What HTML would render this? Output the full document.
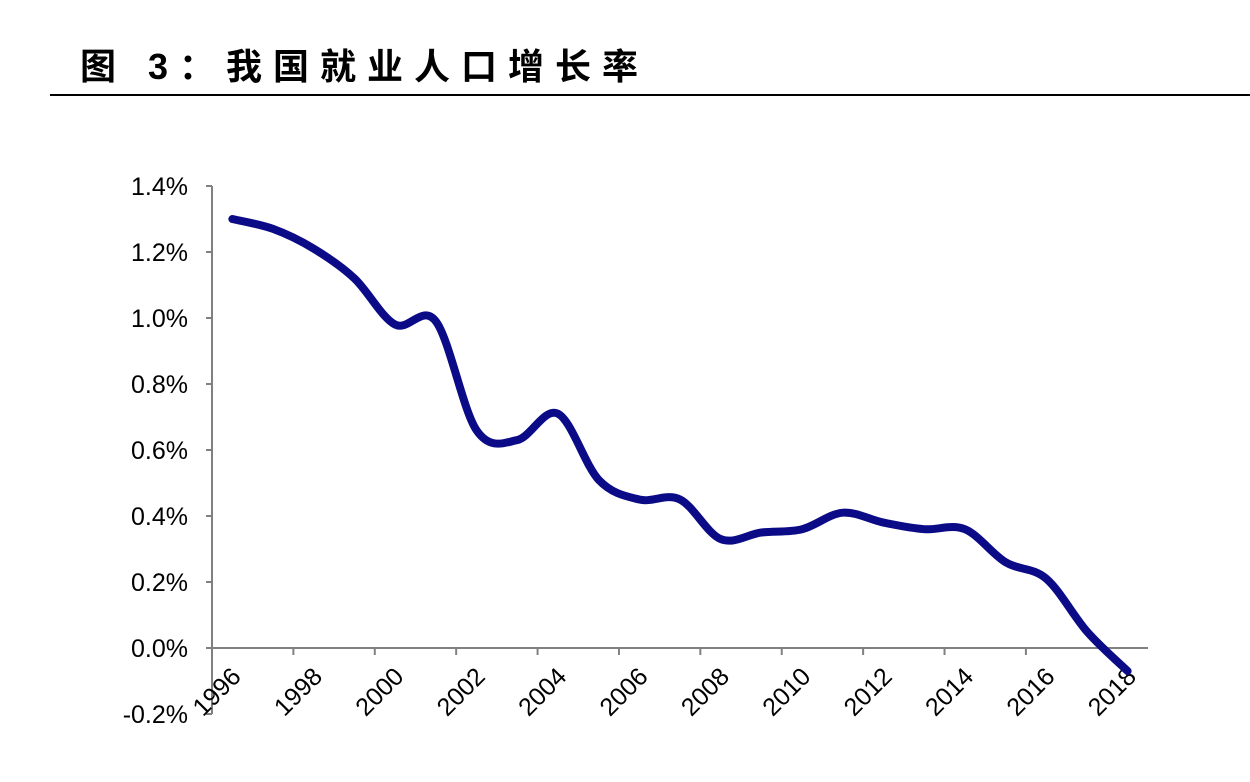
<!DOCTYPE html>
<html><head><meta charset="utf-8">
<style>
html,body{margin:0;padding:0;background:#fff;}
body{width:1250px;height:782px;overflow:hidden;position:relative;font-family:"Liberation Sans","Noto Sans CJK SC",sans-serif;}
#title{position:absolute;left:80px;top:38px;font-size:36px;font-weight:bold;letter-spacing:11px;font-family:"Liberation Sans","Noto Sans CJK SC",sans-serif;}
#rule{position:absolute;left:50px;top:94px;width:1200px;height:2px;background:#000;}
</style></head><body>
<div id="title">图 3：我国就业人口增长率</div>
<div id="rule"></div>
<svg id="chart" width="1250" height="782" style="position:absolute;left:0;top:0"></svg>
<script>
const years=["1996","1997","1998","1999","2000","2001","2002","2003","2004","2005","2006","2007","2008","2009","2010","2011","2012","2013","2014","2015","2016","2017","2018"];
const growth=[1.30,1.27,1.21,1.12,0.98,0.99,0.66,0.63,0.71,0.51,0.45,0.45,0.33,0.35,0.36,0.41,0.38,0.36,0.36,0.26,0.21,0.05,-0.07];
const yTicks=[-0.2,0,0.2,0.4,0.6,0.8,1.0,1.2,1.4];
const xLabelYears=["1996","1998","2000","2002","2004","2006","2008","2010","2012","2014","2016","2018"];

const NS="http://www.w3.org/2000/svg";
const svg=document.getElementById('chart');
const x0=212,x1=1148,yZero=648,pxPer=330;
const band=(x1-x0)/years.length;
const X=i=>x0+band*(i+0.5);
const Y=v=>yZero-v*pxPer;
function mk(t,a){const e=document.createElementNS(NS,t);for(const k in a)e.setAttribute(k,a[k]);svg.appendChild(e);return e;}

const ya=mk('line',{x1:x0,y1:Y(1.4),x2:x0,y2:Y(-0.2),stroke:'#808080','stroke-width':2});


yTicks.forEach(v=>{
  const t=mk('line',{x1:x0-6,y1:Y(v),x2:x0,y2:Y(v),stroke:'#808080','stroke-width':2});
  
  
  const l=mk('text',{x:x0-24,y:Y(v)+9,'text-anchor':'end','font-size':25,'font-family':'Liberation Sans, sans-serif',fill:'#000'});
  l.textContent=v.toFixed(1)+'%';
  
  
});
const xa=mk('line',{x1:x0,y1:yZero,x2:x1,y2:yZero,stroke:'#808080','stroke-width':2});


for(let i=0;i<=years.length;i+=2){
  const xx=x0+band*i;
  const t=mk('line',{x1:xx,y1:yZero,x2:xx,y2:yZero+7,stroke:'#808080','stroke-width':2});
  
  
}
xLabelYears.forEach(yr=>{
  const i=years.indexOf(yr);
  const cx=X(i)+10,cy=yZero+30;
  const l=mk('text',{x:cx,y:cy,'text-anchor':'end','font-size':25,'font-family':'Liberation Sans, sans-serif',fill:'#000',transform:`rotate(-45 ${cx} ${cy})`});
  l.textContent=yr;
  
  
});
const pts=growth.map((v,i)=>[X(i),Y(v)]);
let d=`M${pts[0][0]},${pts[0][1]}`;
for(let i=0;i<pts.length-1;i++){
  const p0=pts[Math.max(0,i-1)],p1=pts[i],p2=pts[i+1],p3=pts[Math.min(pts.length-1,i+2)];
  const c1=[p1[0]+(p2[0]-p0[0])/6,p1[1]+(p2[1]-p0[1])/6];
  const c2=[p2[0]-(p3[0]-p1[0])/6,p2[1]-(p3[1]-p1[1])/6];
  d+=` C${c1[0]},${c1[1]} ${c2[0]},${c2[1]} ${p2[0]},${p2[1]}`;
}
const line=mk('path',{d:d,fill:'none',stroke:'#0b0b87','stroke-width':8,'stroke-linecap':'round','stroke-linejoin':'round'});


</script>
</body></html>
